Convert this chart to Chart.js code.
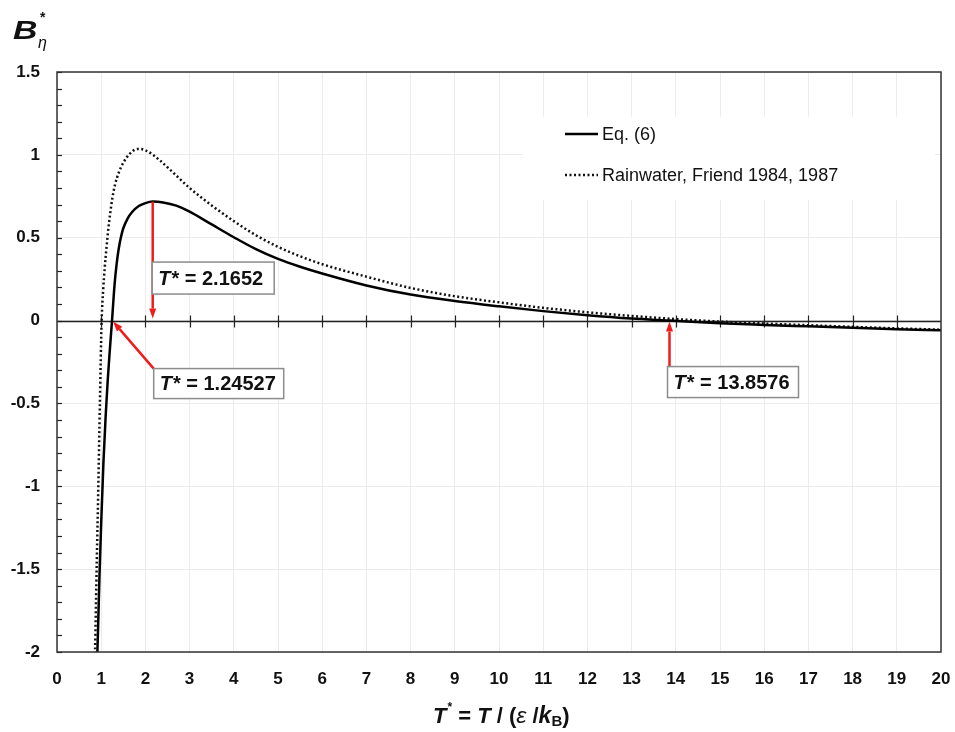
<!DOCTYPE html>
<html>
<head>
<meta charset="utf-8">
<script src="https://cdn.jsdelivr.net/npm/chart.js@4.4.1/dist/chart.umd.min.js"></script>
<style>
  html,body{margin:0;padding:0;background:#fff;}
  #wrap{width:955px;height:732px;}
</style>
</head>
<body>
<div id="wrap"><canvas id="c" width="955" height="732"></canvas></div>
<script>
// ---- data ----
const xTicks = [0,1,2,3,4,5,6,7,8,9,10,11,12,13,14,15,16,17,18,19,20];
const yTicks = [-2,-1.5,-1,-0.5,0,0.5,1,1.5];

const eq6T = [0.90,0.93,0.96,1.00,1.05,1.10,1.15,1.20,1.245,1.30,1.35,1.40,1.45,1.50,1.60,1.70,1.85,2.00,2.165,2.40,2.70,3.00,3.50,4.00,4.50,5.00,5.50,6,7,8,9,10,11,12,13,13.86,15,16,17,18,19,20];
const eq6B = [-2.12,-1.85,-1.55,-1.22,-0.86,-0.58,-0.35,-0.16,0,0.209,0.344,0.439,0.507,0.557,0.617,0.655,0.691,0.709,0.718,0.713,0.694,0.657,0.580,0.503,0.431,0.372,0.325,0.284,0.212,0.157,0.118,0.086,0.057,0.032,0.012,0,-0.016,-0.026,-0.035,-0.044,-0.052,-0.059];

const rfT = [0.84,0.86,0.90,0.935,0.97,1.01,1.045,1.08,1.12,1.16,1.20,1.25,1.31,1.40,1.50,1.65,1.82,2.00,2.33,2.60,3.00,3.50,4.00,4.50,5.00,5.50,6,7,8,9,10,11,12,13,14,15,16,17,18,19,20];
const rfB = [-2.2,-2.0,-1.45,-1.0,-0.5,0,0.185,0.32,0.44,0.55,0.64,0.735,0.817,0.895,0.952,1.008,1.036,1.028,0.966,0.90,0.80,0.695,0.60,0.515,0.445,0.388,0.34,0.265,0.197,0.147,0.11,0.077,0.05,0.028,0.009,-0.006,-0.018,-0.028,-0.038,-0.047,-0.055];

const seriesNames = ['Eq. (6)', 'Rainwater, Friend 1984, 1987'];
const markT = [2.1652, 1.24527, 13.8576];
const markLabels = ['2.1652', '1.24527', '13.8576'];

// ---- chart ----
const FONT = '"Liberation Sans", Arial, Helvetica, sans-serif';
const RED = '#f01c1c';

function pts(xs, ys){ return xs.map((v,i)=>({x:v, y:ys[i]})); }

function line(ctx,x1,y1,x2,y2){ ctx.beginPath(); ctx.moveTo(x1,y1); ctx.lineTo(x2,y2); ctx.stroke(); }

function arrow(ctx,x1,y1,x2,y2){
  const ang = Math.atan2(y2-y1, x2-x1);
  const L = 10, W = 3.5;
  const bx = x2 - L*Math.cos(ang), by = y2 - L*Math.sin(ang);
  ctx.strokeStyle = RED; ctx.fillStyle = RED; ctx.lineWidth = 2.5;
  line(ctx,x1,y1,bx,by);
  ctx.beginPath();
  ctx.moveTo(x2,y2);
  ctx.lineTo(bx + W*Math.sin(ang), by - W*Math.cos(ang));
  ctx.lineTo(bx - W*Math.sin(ang), by + W*Math.cos(ang));
  ctx.closePath(); ctx.fill();
}

function labelBox(ctx,left,top,w,h,value){
  ctx.fillStyle = '#fff';
  ctx.fillRect(left,top,w,h);
  ctx.strokeStyle = '#8c8c8c'; ctx.lineWidth = 1.5;
  ctx.strokeRect(left,top,w,h);
  ctx.fillStyle = '#111';
  ctx.textBaseline = 'middle'; ctx.textAlign = 'left';
  let x = left + 6; const y = top + h/2 + 1;
  ctx.font = 'italic bold 20px ' + FONT;
  ctx.fillText('T', x, y); x += ctx.measureText('T').width + 1;
  ctx.font = 'bold 20px ' + FONT;
  ctx.fillText('* = ' + value, x, y);
}

const under = {
  id: 'under',
  beforeDatasetsDraw(chart){
    const {ctx, chartArea:a, scales:{x,y}} = chart;
    ctx.save();
    ctx.strokeStyle = '#222'; ctx.lineWidth = 1.2;
    // minor ticks on the left axis
    for (let i=-20;i<=15;i++){
      const py = Math.round(y.getPixelForValue(i/10)) + 0.5;
      line(ctx, a.left, py, a.left+5, py);
    }
    // zero line with ticks
    const y0 = Math.round(y.getPixelForValue(0)) + 0.5;
    ctx.lineWidth = 1.5;
    line(ctx, a.left, y0, a.right, y0);
    ctx.lineWidth = 1.2;
    xTicks.forEach(v=>{
      if (v<=0 || v>=20) return;
      const px = Math.round(x.getPixelForValue(v)) + 0.5;
      line(ctx, px, y0-6, px, y0+6);
    });
    // legend background
    ctx.fillStyle = '#fff';
    ctx.fillRect(523, 117, 412, 83);
    ctx.restore();
  },
  afterDatasetsDraw(chart){
    const {ctx, chartArea:a, scales:{x,y}} = chart;
    ctx.save();
    // border
    ctx.strokeStyle = '#333'; ctx.lineWidth = 1.5;
    ctx.strokeRect(a.left, a.top, a.right-a.left, a.bottom-a.top);

    // legend
    const ds = chart.data.datasets;
    const rows = [134, 175];
    rows.forEach((ry,i)=>{
      ctx.strokeStyle = ds[i].borderColor; ctx.lineWidth = ds[i].borderWidth;
      ctx.setLineDash(ds[i].borderDash || []);
      line(ctx, 565, ry, 598, ry);
      ctx.setLineDash([]);
      ctx.fillStyle = '#111';
      ctx.font = '18px ' + FONT; ctx.textBaseline = 'middle'; ctx.textAlign = 'left';
      ctx.fillText(ds[i].label, 602, ry+1);
    });

    const y0 = y.getPixelForValue(0);
    // marker 1 : maximum
    const p1 = x.getPixelForValue(markT[0]);
    const peak = Math.max(...eq6B);
    arrow(ctx, p1, y.getPixelForValue(peak), p1, y0 - 2);
    labelBox(ctx, p1 - 0.5, y0 - 58.5, 122, 32, markLabels[0]);
    // marker 2 : Boyle temperature
    const p2 = x.getPixelForValue(markT[1]);
    const b2l = p1 + 1, b2t = y0 + 48;
    arrow(ctx, b2l, b2t, p2 + 1, y0 + 1);
    labelBox(ctx, b2l, b2t, 130, 30, markLabels[1]);
    // marker 3 : second zero
    const p3 = x.getPixelForValue(markT[2]);
    const b3t = y0 + 46;
    arrow(ctx, p3, b3t + 4, p3, y0 + 1);
    labelBox(ctx, p3 - 2, b3t, 131, 31, markLabels[2]);

    ctx.restore();
  },
  afterDraw(chart){
    const ctx = chart.ctx;
    ctx.save();
    ctx.fillStyle = '#111';
    ctx.textAlign = 'left'; ctx.textBaseline = 'alphabetic';
    // y title  B*_eta
    ctx.save();
    ctx.translate(13, 39);
    ctx.scale(1.3, 1);
    ctx.font = 'italic bold 26px ' + FONT;
    ctx.fillText('B', 0, 0);
    ctx.restore();
    ctx.font = 'bold 14px ' + FONT;
    ctx.fillText('*', 40, 22);
    ctx.font = 'italic 16px ' + FONT;
    ctx.fillText('\u03b7', 38, 48);

    // x title  T* = T / (eps / kB)
    let xx = 433; const by = 723;
    const seg = (txt, font, dy=0) => { ctx.font = font; ctx.fillText(txt, xx, by+dy); xx += ctx.measureText(txt).width; };
    seg('T', 'italic bold 22px ' + FONT);
    xx += 1;
    seg('*', 'bold 12px ' + FONT, -12);
    seg(' = ', 'bold 22px ' + FONT);
    seg('T', 'italic bold 22px ' + FONT);
    seg(' / (', 'bold 22px ' + FONT);
    seg('\u03b5', 'italic 23px ' + FONT);
    seg(' /', 'bold 22px ' + FONT);
    seg('k', 'italic bold 23px ' + FONT);
    seg('B', 'bold 15px ' + FONT, 3);
    seg(')', 'bold 22px ' + FONT);
    ctx.restore();
  }
};

new Chart(document.getElementById('c'), {
  type: 'scatter',
  data: {
    datasets: [
      { label: seriesNames[0], data: pts(eq6T, eq6B), showLine: true, borderColor: '#000', borderWidth: 2.5,
        pointRadius: 0, cubicInterpolationMode: 'monotone', fill: false },
      { label: seriesNames[1], data: pts(rfT, rfB), showLine: true, borderColor: '#111', borderWidth: 2.5,
        borderDash: [2, 2.5], pointRadius: 0, cubicInterpolationMode: 'monotone', fill: false }
    ]
  },
  options: {
    responsive: false,
    animation: false,
    devicePixelRatio: 1,
    layout: { padding: { left: 0, right: 14, top: 72, bottom: 0 } },
    plugins: { legend: { display: false }, tooltip: { enabled: false }, title: { display: false } },
    scales: {
      x: {
        type: 'linear', min: 0, max: 20,
        afterFit: s => { s.height = 80; s.paddingLeft = 0; s.paddingRight = 0; },
        afterBuildTicks: s => { s.ticks = xTicks.map(v => ({ value: v })); },
        grid: { color: '#ececec', lineWidth: 1, drawTicks: false },
        border: { display: false },
        ticks: { padding: 17, color: '#111', font: { family: FONT, size: 17, weight: 'bold' },
                 maxRotation: 0, autoSkip: false, callback: v => String(v) }
      },
      y: {
        type: 'linear', min: -2, max: 1.5,
        afterFit: s => { s.width = 57; s.paddingTop = 0; s.paddingBottom = 0; },
        afterBuildTicks: s => { s.ticks = yTicks.map(v => ({ value: v })); },
        grid: { color: '#ececec', lineWidth: 1, drawTicks: false },
        border: { display: false },
        ticks: { padding: 17, color: '#111', font: { family: FONT, size: 17, weight: 'bold' },
                 autoSkip: false, callback: v => String(v) }
      }
    }
  },
  plugins: [under]
});
</script>
</body>
</html>
